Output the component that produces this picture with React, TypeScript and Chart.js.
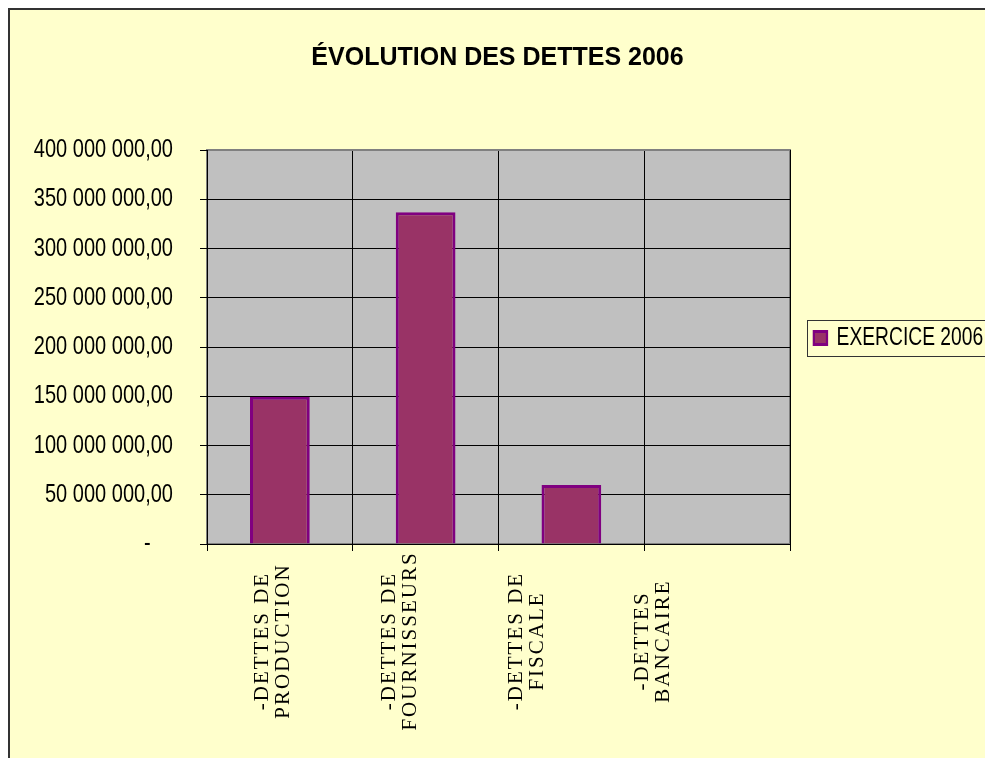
import React, { useEffect, useRef } from 'react';
import { Chart, registerables } from 'chart.js';

Chart.register(...registerables);

// ---- data ----
const chartTitle = 'ÉVOLUTION DES DETTES 2006';
const categories: string[][] = [
  ['-DETTES DE', 'PRODUCTION'],
  ['-DETTES DE', 'FOURNISSEURS'],
  ['-DETTES DE', 'FISCALE'],
  ['-DETTES', 'BANCAIRE'],
];
const seriesName = 'EXERCICE 2006';
const exercice2006 = [149500000, 336800000, 60000000, 0];
const yTicks = [0, 50000000, 100000000, 150000000, 200000000, 250000000, 300000000, 350000000, 400000000];

const formatAmount = (v: number): string => {
  if (v === 0) return '-\u2007\u2007';
  return Math.round(v).toString().replace(/\B(?=(\d{3})+(?!\d))/g, ' ') + ',00';
};

const SANS = "'Liberation Sans', Arial, sans-serif";
const SQUEEZE = 0.77; // horizontal compression of the sans text (as in the original)
const LEGEND_SHIFT = -9;

const plotBackground = {
  id: 'plotBackground',
  beforeDraw(chart: any) {
    const { ctx, chartArea: a } = chart;
    ctx.save();
    ctx.fillStyle = '#C0C0C0';
    ctx.fillRect(a.left, a.top, a.right - a.left, a.bottom - a.top);
    ctx.strokeStyle = '#808080';
    ctx.lineWidth = 2;
    ctx.strokeRect(a.left, a.top, a.right - a.left, a.bottom - a.top);
    ctx.restore();
  },
};

const labelLayout = {
  id: 'labelLayout',
  beforeDraw(chart: any) {
    const sx: any = chart.scales.x;
    if (sx && !sx.__patched) {
      sx.__patched = true;
      const origCompute = sx._computeLabelItems.bind(sx);
      sx._computeLabelItems = (ca: any) => {
        const items = origCompute(ca);
        const n = sx.ticks.length || 1;
        const w = sx.width / n;
        items.forEach((it: any, i: number) => {
          const lh = it.font.lineHeight;
          it.options.textAlign = 'center';
          it.options.translation = [sx.left + w * (0.383 + 0.869 * i) - lh / 2, sx.top + 97];
        });
        return items;
      };
      const origDraw = sx.drawLabels.bind(sx);
      sx.drawLabels = (ca: any) => {
        const c = sx.ctx;
        c.save();
        c.letterSpacing = '2px';
        origDraw(ca);
        c.restore();
      };
    }
    if (sx) sx._labelItems = null;

    const sy: any = chart.scales.y;
    if (sy && !sy.__patched) {
      sy.__patched = true;
      sy._computeLabelArea = () => undefined;
      const origCompute = sy._computeLabelItems.bind(sy);
      sy._computeLabelItems = (ca: any) => {
        const items = origCompute(ca);
        items.forEach((it: any) => {
          const t = it.options.translation;
          it.options.translation = [t[0] / SQUEEZE, t[1]];
        });
        return items;
      };
      const origDraw = sy.drawLabels.bind(sy);
      sy.drawLabels = (ca: any) => {
        const c = sy.ctx;
        c.save();
        c.scale(SQUEEZE, 1);
        origDraw(ca);
        c.restore();
      };
    }
    if (sy) sy._labelItems = null;

    const lg: any = chart.legend;
    if (lg && !lg.__patched) {
      lg.__patched = true;
      const origDraw = lg.draw.bind(lg);
      lg.draw = (...args: any[]) => {
        const c = lg.ctx;
        const realLeft = lg.left;
        const realRight = lg.right;
        lg.__realLeft = realLeft;
        lg.left = 0;
        lg.right = (chart.width - realLeft) / SQUEEZE + 40;
        c.save();
        c.translate(realLeft, LEGEND_SHIFT);
        c.scale(SQUEEZE, 1);
        origDraw(...args);
        c.restore();
        lg.left = realLeft;
        lg.right = realRight;
      };
    }
  },
};

const legendFrame = {
  id: 'legendFrame',
  afterDraw(chart: any) {
    const lg: any = chart.legend;
    if (!lg || !lg.legendHitBoxes || !lg.legendHitBoxes.length) return;
    const hb = lg.legendHitBoxes[0];
    const { ctx } = chart;
    const base = lg.__realLeft ?? lg.left;
    const left = base + lg.options.labels.padding * SQUEEZE;
    const cy = hb.top + hb.height / 2 + LEGEND_SHIFT;
    ctx.save();
    ctx.strokeStyle = '#333333';
    ctx.lineWidth = 1;
    ctx.strokeRect(Math.round(left - 7) + 0.5, Math.round(cy - 18) + 0.5, chart.width, 36);
    ctx.restore();
  },
};

export default function App() {
  const ref = useRef<HTMLCanvasElement | null>(null);

  useEffect(() => {
    if (!ref.current) return;
    const chart = new Chart(ref.current, {
      type: 'bar',
      data: {
        labels: categories,
        datasets: [
          {
            label: seriesName,
            data: exercice2006,
            backgroundColor: '#993366',
            borderColor: '#800080',
            borderWidth: 3,
            borderSkipped: 'start',
            barPercentage: 0.41,
            categoryPercentage: 1,
          },
        ],
      },
      options: {
        animation: false,
        responsive: false,
        devicePixelRatio: 1,
        layout: { padding: 0 },
        plugins: {
          title: {
            display: true,
            text: chartTitle,
            color: '#000',
            font: { family: SANS, size: 25, weight: 'bold', lineHeight: 1.2 },
            padding: { top: 32.7, bottom: 77.3 },
          },
          legend: {
            display: true,
            position: 'right',
            align: 'center',
            fullSize: false,
            maxWidth: 195,
            labels: {
              color: '#000',
              font: { family: SANS, size: 25 },
              boxWidth: 17,
              boxHeight: 13,
              padding: 31,
            },
          },
          tooltip: { enabled: false },
        },
        scales: {
          x: {
            offset: true,
            grid: {
              offset: true,
              color: '#000',
              lineWidth: 1,
              tickLength: 7,
              tickColor: '#000',
              drawOnChartArea: true,
            },
            border: { color: '#000', width: 1 },
            ticks: {
              autoSkip: false,
              minRotation: 90,
              maxRotation: 90,
              color: '#000',
              padding: 4,
              font: { family: "'Liberation Serif', 'Times New Roman', serif", size: 21, lineHeight: 1 },
            },
            afterFit: (s: any) => {
              s.height = 214;
            },
          },
          y: {
            min: 0,
            max: 400000000,
            afterBuildTicks: (s: any) => {
              s.ticks = yTicks.map((v) => ({ value: v }));
            },
            ticks: {
              callback: (v: any) => formatAmount(Number(v)),
              color: '#000',
              padding: 27,
              font: { family: SANS, size: 26 },
            },
            grid: {
              color: (c: any) => (c.tick && c.tick.value === 400000000 ? '#808080' : '#000'),
              lineWidth: 1,
              tickLength: 7,
              tickColor: '#000',
            },
            border: { color: '#000', width: 1 },
            afterFit: (s: any) => {
              s.width = 197;
            },
          },
        },
      },
      plugins: [plotBackground, labelLayout, legendFrame],
    } as any);
    return () => chart.destroy();
  }, []);

  return (
    <div
      style={{
        position: 'fixed',
        left: 8,
        top: 8,
        right: 0,
        bottom: 0,
        borderLeft: '2px solid #333',
        borderTop: '2px solid #333',
        background: '#FFFFCC',
        overflow: 'hidden',
      }}
    >
      <canvas ref={ref} width={975} height={748} style={{ display: 'block' }} />
    </div>
  );
}
